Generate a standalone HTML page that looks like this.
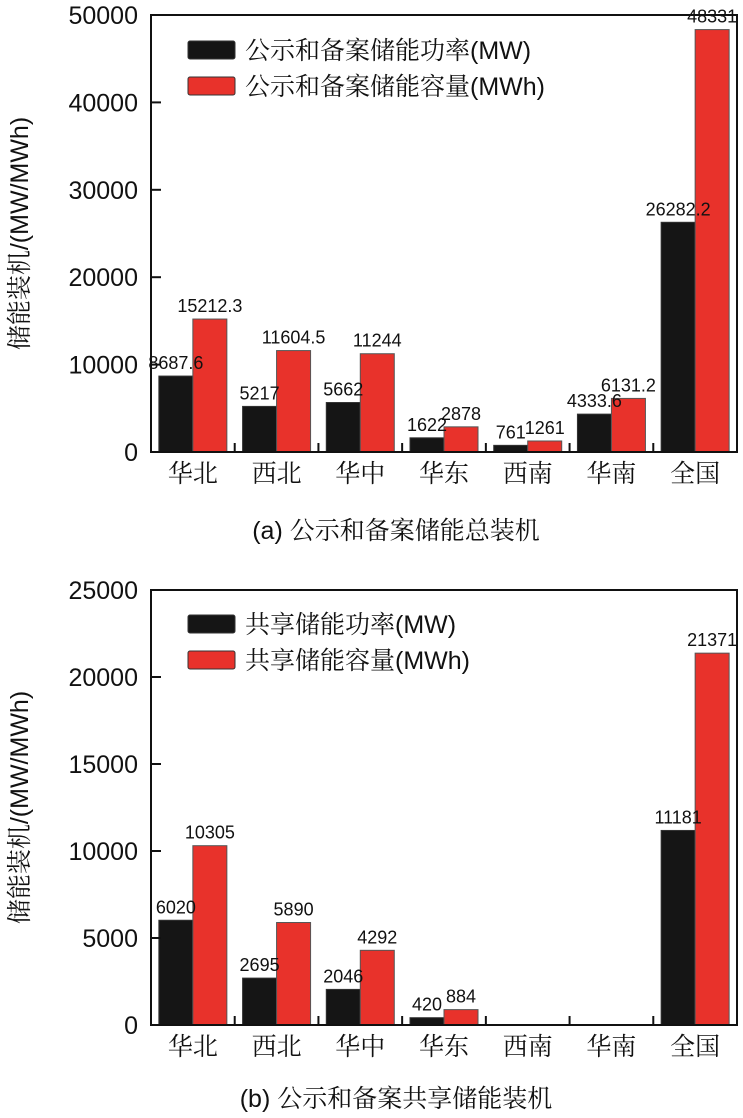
<!DOCTYPE html>
<html><head><meta charset="utf-8"><style>
html,body{margin:0;padding:0;background:#fff;}
svg{display:block;font-family:"Liberation Sans","Noto Serif CJK SC",serif;}
</style></head><body>
<svg id="c" width="743" height="1118" viewBox="0 0 743 1118"></svg>
<script>
const categories=["华北","西北","华中","华东","西南","华南","全国"];
const powerA=[8687.6,5217,5662,1622,761,4333.6,26282.2];
const capA=[15212.3,11604.5,11244,2878,1261,6131.2,48331];
const powerALabels=["8687.6","5217","5662","1622","761","4333.6","26282.2"];
const capALabels=["15212.3","11604.5","11244","2878","1261","6131.2","48331"];
const powerB=[6020,2695,2046,420,0,0,11181];
const capB=[10305,5890,4292,884,0,0,21371];
const powerBLabels=["6020","2695","2046","420","","","11181"];
const capBLabels=["10305","5890","4292","884","","","21371"];
const ticksA=[0,10000,20000,30000,40000,50000];
const ticksB=[0,5000,10000,15000,20000,25000];

const svg=document.getElementById('c');
const NS="http://www.w3.org/2000/svg";
function mk(tag,attrs,parent){const e=document.createElementNS(NS,tag);for(const k in attrs)e.setAttribute(k,attrs[k]);(parent||svg).appendChild(e);return e;}

function panel(cfg){
  const g=mk('g',{});
  
  
  const L=151,R=737,T=cfg.top,B=cfg.bottom,max=cfg.max;
  const y=v=>B-(v/max)*(B-T);
  const step=(R-L)/7;
  const xc=i=>L+step*(i+0.5);
  const bw=34;
  categories.forEach((c,i)=>{
    const hp=B-y(cfg.p[i]), hc=B-y(cfg.c[i]);
    if(cfg.p[i]>0){const r=mk('rect',{x:xc(i)-bw,y:y(cfg.p[i]),width:bw,height:hp,fill:'#151515',stroke:'#333','stroke-width':1},g);
      
      }
    if(cfg.c[i]>0){const r=mk('rect',{x:xc(i),y:y(cfg.c[i]),width:bw,height:hc,fill:'#e8322b',stroke:'#555','stroke-width':1},g);
      
      }
    if(cfg.pl[i]){const t=mk('text',{x:xc(i)-bw/2,y:y(cfg.p[i])-7,'font-size':18,'text-anchor':'middle',fill:'#111'},g);t.textContent=cfg.pl[i];
      
      }
    if(cfg.cl[i]){const t=mk('text',{x:xc(i)+bw/2,y:y(cfg.c[i])-7,'font-size':18,'text-anchor':'middle',fill:'#111'},g);t.textContent=cfg.cl[i];
      
      }
    const xl=mk('text',{x:xc(i),y:B+30,'font-size':25,'text-anchor':'middle',fill:'#111'},g);xl.textContent=c;
    
    
    if(i>0){mk('line',{x1:L+step*i,x2:L+step*i,y1:B,y2:B-9,stroke:'#111','stroke-width':2},g);}
  });
  const f=mk('rect',{x:L,y:T,width:R-L,height:B-T,fill:'none',stroke:'#111','stroke-width':2},g);
  
  
  cfg.ticks.forEach(v=>{
    mk('line',{x1:L,x2:L+10,y1:y(v),y2:y(v),stroke:'#111','stroke-width':2},g);
    const t=mk('text',{x:138,y:y(v)+9,'font-size':25,'text-anchor':'end',fill:'#111'},g);t.textContent=v;
    
    
  });
  const yt=mk('text',{x:0,y:0,'font-size':25,'text-anchor':'middle',fill:'#111',transform:`translate(28,${(T+B)/2}) rotate(-90)`},g);
  yt.textContent='储能装机/(MW/MWh)';
  
  
  const ly=cfg.legY;
  [[cfg.leg1,'#151515'],[cfg.leg2,'#e8322b']].forEach((l,k)=>{
    const r=mk('rect',{x:188,y:ly+k*36,width:47,height:18,fill:l[1],stroke:'#333','stroke-width':1,rx:2},g);
    
    
    const t=mk('text',{x:245,y:ly+k*36+18,'font-size':25,fill:'#111'},g);t.textContent=l[0];
    
    
  });
  const cap=mk('text',{x:396,y:cfg.capY,'font-size':25,'text-anchor':'middle',fill:'#111'},g);
  cap.textContent=cfg.caption;
  
  
}
panel({name:'chart-a',top:15,bottom:452,max:50000,p:powerA,c:capA,pl:powerALabels,cl:capALabels,ticks:ticksA,
  legY:41,leg1:'公示和备案储能功率(MW)',leg2:'公示和备案储能容量(MWh)',capY:539,caption:'(a) 公示和备案储能总装机'});
panel({name:'chart-b',top:590,bottom:1025,max:25000,p:powerB,c:capB,pl:powerBLabels,cl:capBLabels,ticks:ticksB,
  legY:615,leg1:'共享储能功率(MW)',leg2:'共享储能容量(MWh)',capY:1107,caption:'(b) 公示和备案共享储能装机'});
</script>
</body></html>
